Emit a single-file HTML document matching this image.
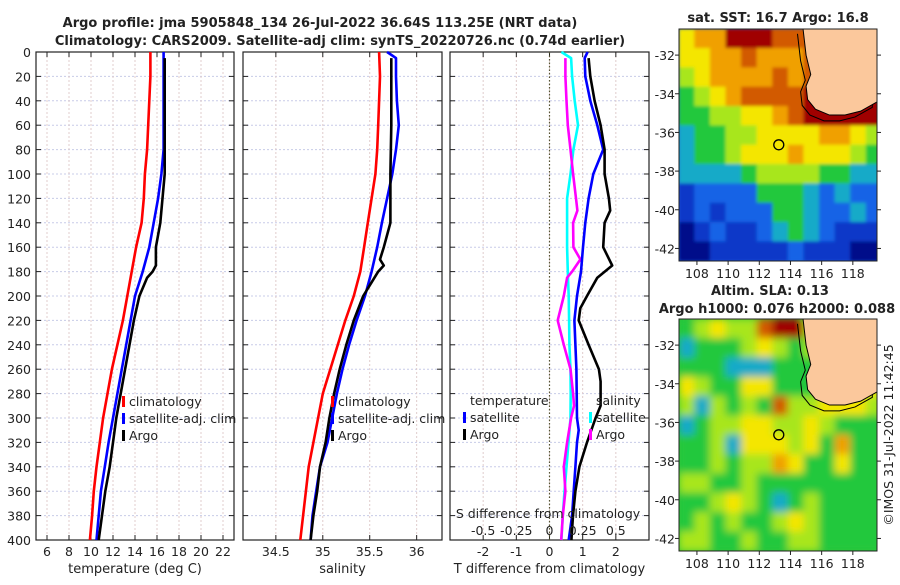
<!DOCTYPE html>
<html><head><meta charset="utf-8"><style>
html,body{margin:0;padding:0;background:#fff;}
svg text{font-family:"DejaVu Sans","Liberation Sans",sans-serif;fill:#222;}
</style></head><body>
<svg id="fig" width="900" height="580" viewBox="0 0 900 580" xmlns="http://www.w3.org/2000/svg">
<text x="320" y="27" text-anchor="middle" font-size="13" font-weight="bold">Argo profile: jma 5905848_134 26-Jul-2022 36.64S 113.25E (NRT data)</text>
<text x="340" y="45" text-anchor="middle" font-size="13" font-weight="bold">Climatology: CARS2009. Satellite-adj clim: synTS_20220726.nc (0.74d earlier)</text>
<text x="778" y="22" text-anchor="middle" font-size="13" font-weight="bold">sat. SST: 16.7 Argo: 16.8</text>
<text x="770" y="295" text-anchor="middle" font-size="13" font-weight="bold">Altim. SLA: 0.13</text>
<text x="777" y="313" text-anchor="middle" font-size="13" font-weight="bold">Argo h1000: 0.076 h2000: 0.088</text>
<text transform="translate(893,435) rotate(-90)" text-anchor="middle" font-size="12.5">©IMOS 31-Jul-2022 11:42:45</text>
<g id="g"></g>
</svg>
<script>
// ---- data ----
const depthTicks=[0,20,40,60,80,100,120,140,160,180,200,220,240,260,280,300,320,340,360,380,400];
const tTicks=[6,8,10,12,14,16,18,20,22];
const sTicks=[34.5,35,35.5,36];
const dTTicks=[-2,-1,0,1,2];
const dSTicks=[-0.5,-0.25,0,0.25,0.5];
const dSTickLabels=['-0.5','-0.25','0','0.25','0.5'];
const climDepth=[0,20,40,60,80,100,120,140,160,180,200,220,240,260,280,300,320,340,360,380,400];
const climT=[15.4,15.4,15.3,15.2,15.1,14.9,14.8,14.6,14.1,13.7,13.3,12.9,12.4,11.9,11.5,11.1,10.8,10.5,10.25,10.1,9.9];
const satT=[16.6,16.6,16.6,16.6,16.6,16.4,16.1,15.7,15.3,14.7,14.0,13.6,13.2,12.8,12.4,12.0,11.6,11.25,10.9,10.7,10.5];
const argoTDepth=[5,20,40,60,80,100,120,140,160,175,180,185,200,220,240,260,280,300,320,340,360,380,400];
const argoT=[16.7,16.7,16.7,16.7,16.7,16.7,16.5,16.3,15.9,15.9,15.6,15.1,14.4,13.9,13.5,13.1,12.7,12.3,12.0,11.7,11.3,11.0,10.7];
const climS=[35.6,35.61,35.6,35.59,35.58,35.56,35.52,35.48,35.44,35.40,35.33,35.24,35.16,35.08,35.0,34.95,34.9,34.85,34.82,34.79,34.76];
const satSDepth=[0,5,20,40,60,80,100,120,140,160,180,200,220,240,260,280,300,320,340,360,380,400];
const satS=[35.685,35.78,35.78,35.79,35.81,35.78,35.74,35.685,35.63,35.58,35.52,35.45,35.36,35.28,35.21,35.15,35.1,35.05,34.97,34.93,34.89,34.87];
const argoSDepth=[5,40,60,100,140,150,160,170,175,180,190,200,220,240,260,280,300,320,340,360,380,400];
const argoS=[35.73,35.73,35.73,35.72,35.72,35.685,35.65,35.61,35.65,35.59,35.51,35.43,35.33,35.25,35.18,35.12,35.07,35.03,34.97,34.94,34.9,34.87];
const satDSDepth=[0,5,20,40,60,80,100,120,140,160,180,200,220,240,260,280,300,320,340,360,380,400];
const satDS=[0.09,0.163,0.17,0.19,0.215,0.18,0.158,0.133,0.133,0.133,0.138,0.145,0.148,0.15,0.158,0.16,0.158,0.143,0.128,0.113,0.1,0.09];
const argoDSDepth=[5,20,40,60,80,100,120,130,140,160,170,180,185,200,220,240,260,280,290,300,320,340,360,380,400];
const argoDS=[0.12,0.12,0.128,0.138,0.158,0.178,0.2,0.21,0.178,0.18,0.233,0.17,0.133,0.108,0.062,0.108,0.158,0.178,0.185,0.163,0.133,0.108,0.12,0.1,0.088];
const satDTDepth=[0,5,20,40,60,80,100,120,140,160,180,200,220,240,260,280,300,310,320,340,360,380,400];
const satDT=[1.15,1.06,1.08,1.23,1.44,1.62,1.32,1.18,1.08,1.01,0.95,0.83,0.75,0.78,0.81,0.82,0.83,0.88,0.83,0.78,0.73,0.68,0.58];
const argoDTDepth=[5,20,40,60,80,100,120,130,140,160,175,185,200,210,220,240,260,270,290,300,320,340,360,380,400];
const argoDT=[1.18,1.23,1.36,1.54,1.66,1.66,1.79,1.83,1.66,1.62,1.89,1.44,1.13,0.93,0.88,1.18,1.49,1.54,1.54,1.39,1.13,0.9,0.78,0.71,0.66];
const lonTicks=[108,110,112,114,116,118];
const latTicks=[-32,-34,-36,-38,-40,-42];
const sstGrid=["6779998889999","6677877789999","5677778789999","4567888899999","4455667899999","3445566667765","3445666766654","3333455554433","1222244432322","1212224432232","0121123432111","0011111211100"];
const slaGrid=["4565589954666","3444565456666","4443334446666","6544664445666","5354548556665","3455665565444","4453666564744","4454557644644","5544544444444","4456543454444","4545445654444","5544544554444"];
const landLon=[114.8,115.0,115.3,115.0,115.1,115.6,116.5,117.5,118.5,119.6,119.6];
const landLat=[-30.6,-32,-33.0,-33.6,-34.3,-34.8,-35.1,-35.1,-34.9,-34.4,-30.6];
const argoLon=113.25, argoLat=-36.64;
// ---- helpers ----
const NS='http://www.w3.org/2000/svg';const G=document.getElementById('g');
function mk(t,a,p){const e=document.createElementNS(NS,t);for(const k in a)e.setAttribute(k,a[k]);(p||G).appendChild(e);return e;}
const yD=d=>52+d*1.22;
const P1={x0:36,x1:234,v0:5,v1:23},P2={x0:243,x1:442,v0:34.15,v1:36.27},P3={x0:450,x1:649,v0:-3,v1:3},P3S={x0:450,x1:649,v0:-0.75,v1:0.75};
const sx=(P,v)=>P.x0+(v-P.v0)/(P.v1-P.v0)*(P.x1-P.x0);
function panel(P,name,ticks,labels,xlabel,ylab){
  const g=mk('g',{});
  depthTicks.forEach(d=>{const l=mk('line',{x1:P.x0,x2:P.x1,y1:yD(d),y2:yD(d),stroke:'#c8cce8','stroke-width':1,'stroke-dasharray':'2,2'},g);
    mk('line',{x1:P.x0,x2:P.x0+5,y1:yD(d),y2:yD(d),stroke:'#222'},g);mk('line',{x1:P.x1-5,x2:P.x1,y1:yD(d),y2:yD(d),stroke:'#222'},g);
    if(ylab){const t=mk('text',{x:31,y:yD(d)+5,'text-anchor':'end','font-size':12.5},g);t.textContent=d;}});
  ticks.forEach((v,i)=>{const x=sx(P,v);const l=mk('line',{x1:x,x2:x,y1:52,y2:540,stroke:'#e0cccc','stroke-width':1,'stroke-dasharray':'2,2'},g);
    mk('line',{x1:x,x2:x,y1:540,y2:535,stroke:'#222'},g);mk('line',{x1:x,x2:x,y1:52,y2:57,stroke:'#222'},g);
    const t=mk('text',{x:x,y:556,'text-anchor':'middle','font-size':12.5},g);t.textContent=labels[i];});
  const r=mk('rect',{x:P.x0,y:52,width:P.x1-P.x0,height:488,fill:'none',stroke:'#222','stroke-width':1.2},g);
  const t=mk('text',{x:(P.x0+P.x1)/2,y:573,'text-anchor':'middle','font-size':13},g);t.textContent=xlabel;
}
function line(P,vals,deps,col,name){const pts=vals.map((v,i)=>sx(P,v).toFixed(1)+','+yD(deps[i]).toFixed(1)).join(' ');
  const l=mk('polyline',{points:pts,fill:'none',stroke:col,'stroke-width':2.6,'stroke-linejoin':'round'});}
function legend(x,y,col,label,name){const r=mk('rect',{x:x,y:y-10,width:3,height:11,fill:col});
  const t=mk('text',{x:x+7,y:y,'font-size':12.5});t.textContent=label;}
// panels
panel(P1,'temperature-panel',tTicks,tTicks.map(String),'temperature (deg C)',true);
panel(P2,'salinity-panel',sTicks,sTicks.map(String),'salinity',false);
panel(P3,'difference-panel',dTTicks,dTTicks.map(String),'T difference from climatology',false);
const z=mk('line',{x1:sx(P3,0),x2:sx(P3,0),y1:52,y2:540,stroke:'#555533','stroke-width':1.2,'stroke-dasharray':'1.5,2'});
line(P1,climT,climDepth,'#ff0000','climatology-temperature-line');
line(P1,satT,climDepth,'#0000ff','satellite-temperature-line');
line(P1,argoT,argoTDepth,'#000000','argo-temperature-line');
line(P2,climS,climDepth,'#ff0000','climatology-salinity-line');
line(P2,satS,satSDepth,'#0000ff','satellite-salinity-line');
line(P2,argoS,argoSDepth,'#000000','argo-salinity-line');
line(P3S,satDS,satDSDepth,'#00ffff','satellite-salinity-diff-line');
line(P3S,argoDS,argoDSDepth,'#ff00ff','argo-salinity-diff-line');
line(P3,satDT,satDTDepth,'#0000ff','satellite-temperature-diff-line');
line(P3,argoDT,argoDTDepth,'#000000','argo-temperature-diff-line');
legend(122,406,'#ff0000','climatology','legend-climatology');
legend(122,423,'#0000ff','satellite-adj. clim','legend-satellite-adj');
legend(122,440,'#000000','Argo','legend-argo');
legend(331,406,'#ff0000','climatology','legend2-climatology');
legend(331,423,'#0000ff','satellite-adj. clim','legend2-satellite-adj');
legend(331,440,'#000000','Argo','legend2-argo');
{const t=mk('text',{x:470,y:405,'font-size':12.5});t.textContent='temperature';
 const u=mk('text',{x:596,y:405,'font-size':12.5});u.textContent='salinity';}
legend(463,422,'#0000ff','satellite','legend3-temp-satellite');
legend(463,439,'#000000','Argo','legend3-temp-argo');
legend(589,422,'#00ffff','satellite','legend3-sal-satellite');
legend(589,439,'#ff00ff','Argo','legend3-sal-argo');
{const t=mk('text',{x:548,y:518,'text-anchor':'middle','font-size':12.5});t.textContent='S difference from climatology';
 dSTicks.forEach((v,i)=>{const e=mk('text',{x:sx(P3S,v),y:535,'text-anchor':'middle','font-size':12.5});e.textContent=dSTickLabels[i];});}
// maps
const cmap=['#00108a','#0a38c8','#1464e6','#18aac8','#20c83c','#a8e61e','#f4e600','#f0a000','#d25a00','#a00000'];
const M1={x0:679,x1:877,y0:29,y1:261,lon0:106.85,lon1:119.55,lat0:-30.65,lat1:-42.65};
const M2={x0:679,x1:877,y0:319,y1:551,lon0:106.85,lon1:119.55,lat0:-30.65,lat1:-42.65};
const mx=(M,lo)=>M.x0+(lo-M.lon0)/(M.lon1-M.lon0)*(M.x1-M.x0);
const my=(M,la)=>M.y0+(la-M.lat0)/(M.lat1-M.lat0)*(M.y1-M.y0);
function map(M,grid,name,filt,bg){
  const g=mk('g',{});
  const cid='clip'+name;const cp=mk('clipPath',{id:cid},g);mk('rect',{x:M.x0,y:M.y0,width:M.x1-M.x0,height:M.y1-M.y0},cp);
  const cells=mk('g',{'clip-path':'url(#'+cid+')'},g);
  mk('rect',{x:M.x0,y:M.y0,width:M.x1-M.x0,height:M.y1-M.y0,fill:bg},cells);
  const inner=mk('g',{filter:'url(#'+filt+')'},cells);
  grid.forEach((row,r)=>{for(let c=0;c<row.length;c++){const lo=M.lon0+c,la=M.lat0-r;
    const x=mx(M,lo),y=my(M,la);const e=mk('rect',{x:x-0.3,y:y-0.3,width:mx(M,lo+1)-x+0.6,height:my(M,la-1)-y+0.6,fill:cmap[+row[c]]},inner);
    }});
  const shelf=landLon.map((lo,i)=>mx(M,lo-0.35)+','+my(M,landLat[i]-0.3)).join(' ');
  const sl=mk('polyline',{points:shelf,fill:'none',stroke:'#000','stroke-width':1},cells);
  const pts=landLon.map((lo,i)=>mx(M,lo)+','+my(M,landLat[i])).join(' ');
  const lp=mk('polygon',{points:pts,fill:'#fbc89c',stroke:'#000','stroke-width':1},cells);
  const ci=mk('circle',{cx:mx(M,argoLon),cy:my(M,argoLat),r:5,fill:'none',stroke:'#000','stroke-width':1.3},g);
  mk('rect',{x:M.x0,y:M.y0,width:M.x1-M.x0,height:M.y1-M.y0,fill:'none',stroke:'#222','stroke-width':1},g);
  lonTicks.forEach(lo=>{const x=mx(M,lo);mk('line',{x1:x,x2:x,y1:M.y1,y2:M.y1+4,stroke:'#222'},g);
    const t=mk('text',{x:x,y:M.y1+17,'text-anchor':'middle','font-size':12.5},g);t.textContent=lo;});
  latTicks.forEach(la=>{const y=my(M,la);mk('line',{x1:M.x0-4,x2:M.x0,y1:y,y2:y,stroke:'#222'},g);mk('line',{x1:M.x1,x2:M.x1+4,y1:y,y2:y,stroke:'#222'},g);
    const t=mk('text',{x:M.x0-4,y:y+5,'text-anchor':'end','font-size':12.5},g);t.textContent=la;});
}
const defs=mk('defs',{});
const f=mk('filter',{id:'bl'},defs);mk('feGaussianBlur',{stdDeviation:4},f);
const f2=mk('filter',{id:'bl2'},defs);mk('feGaussianBlur',{stdDeviation:1.5},f2);
map(M1,sstGrid,'sst-map','bl2','#1464e6');
map(M2,slaGrid,'sla-map','bl','#30c63a');
</script>
</body></html>
